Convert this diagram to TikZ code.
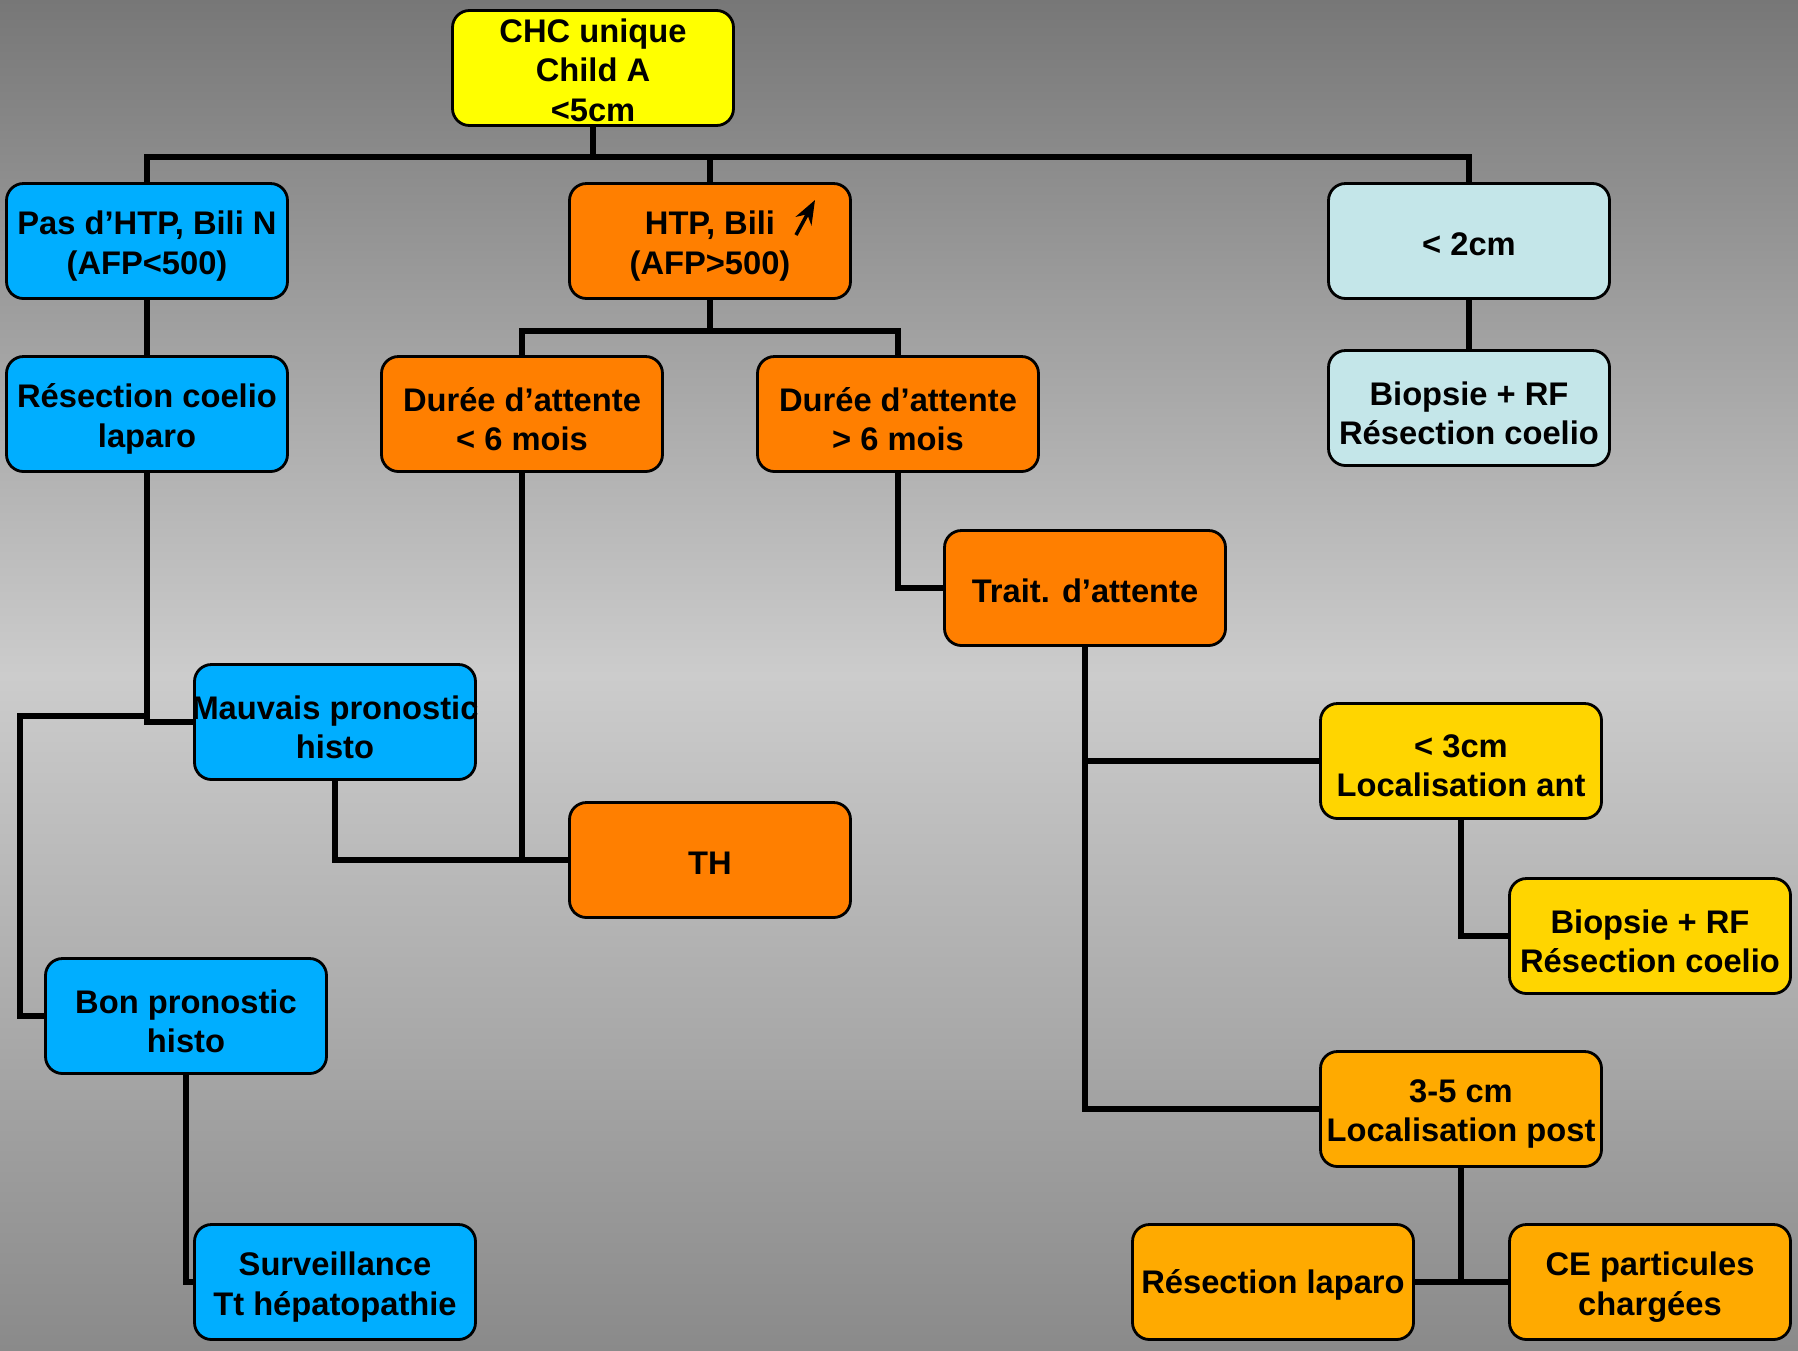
\documentclass[tikz,border=0pt]{standalone}
\usepackage{fontspec}
\setmainfont{Liberation Sans}
\usetikzlibrary{arrows.meta}
\definecolor{cyel}{HTML}{FFFF00}
\definecolor{cblue}{HTML}{00AEFF}
\definecolor{corange}{HTML}{FF7F00}
\definecolor{clight}{HTML}{C4E6E9}
\definecolor{cgold}{HTML}{FFD500}
\definecolor{camber}{HTML}{FFAA00}
\definecolor{bgtop}{HTML}{777777}
\definecolor{bgmid}{HTML}{CCCCCC}
\definecolor{bgbot}{HTML}{8A8A8A}
\begin{document}
\begin{tikzpicture}[
  box/.style={draw=black, line width=0.8pt, rounded corners=0.17cm,
    minimum width=2.81cm, minimum height=1.15cm, inner sep=0pt},
  txt/.style={inner sep=0pt, align=center,
    font=\bfseries\fontsize{9.3}{11.2}\selectfont},
  link/.style={line width=1.5pt, black}
]
\shade[top color=bgtop, bottom color=bgbot, middle color=bgmid] (0,0) rectangle (17.98,-13.5);
\useasboundingbox (0,0) rectangle (17.98,-13.5);

\coordinate (bus) at (0,-1.57);
\coordinate (bus2) at (0,-3.31);
\coordinate (bk) at (0.20,-7.16);

\node[box, fill=cyel] (chc) at (5.93,-0.68) {};
\node[box, fill=cblue] (pas) at (1.47,-2.41) {};
\node[box, fill=corange] (htp) at (7.10,-2.41) {};
\node[box, fill=clight] (lt2) at (14.69,-2.41) {};
\node[box, fill=cblue] (resc) at (1.47,-4.14) {};
\node[box, fill=corange] (d1) at (5.22,-4.14) {};
\node[box, fill=corange] (d2) at (8.98,-4.14) {};
\node[box, fill=clight] (bio1) at (14.69,-4.08) {};
\node[box, fill=corange] (trait) at (10.85,-5.88) {};
\node[box, fill=cblue] (mauv) at (3.35,-7.22) {};
\node[box, fill=cgold] (lt3) at (14.61,-7.61) {};
\node[box, fill=corange] (th) at (7.10,-8.60) {};
\node[box, fill=cgold] (bio2) at (16.50,-9.36) {};
\node[box, fill=cblue] (bon) at (1.86,-10.16) {};
\node[box, fill=camber] (c35) at (14.61,-11.09) {};
\node[box, fill=cblue] (surv) at (3.35,-12.82) {};
\node[box, fill=camber] (reslap) at (12.73,-12.82) {};
\node[box, fill=camber] (ce) at (16.50,-12.82) {};

\node[txt] (chc-t) at ([yshift=-0.02cm]chc.center) {CHC unique\\Child A\\<5cm};
\node[txt] (pas-t) at ([yshift=-0.05cm]pas.center) {Pas d’HTP, Bili N\\(AFP<500)};
\node[txt] (htp-t) at ([yshift=-0.05cm]htp.center) {HTP, Bili\\(AFP>500)};
\node[txt] (lt2-t) at ([yshift=-0.03cm]lt2.center) {< 2cm};
\node[txt] (resc-t) at ([yshift=-0.05cm]resc.center) {Résection coelio\\laparo};
\node[txt] (d1-t) at ([yshift=-0.05cm]d1.center) {Durée d’attente\\< 6 mois};
\node[txt] (d2-t) at ([yshift=-0.05cm]d2.center) {Durée d’attente\\> 6 mois};
\node[txt] (bio1-t) at ([yshift=-0.05cm]bio1.center) {Biopsie + RF\\Résection coelio};
\node[txt] (trait-t) at ([yshift=-0.03cm]trait.center) {Trait. d’attente};
\node[txt] (mauv-t) at ([yshift=-0.05cm]mauv.center) {Mauvais pronostic\\histo};
\node[txt] (lt3-t) at ([yshift=-0.05cm]lt3.center) {< 3cm\\Localisation ant};
\node[txt] (th-t) at ([yshift=-0.03cm]th.center) {TH};
\node[txt] (bio2-t) at ([yshift=-0.05cm]bio2.center) {Biopsie + RF\\Résection coelio};
\node[txt] (bon-t) at ([yshift=-0.05cm]bon.center) {Bon pronostic\\histo};
\node[txt] (c35-t) at ([yshift=-0.05cm]c35.center) {3-5 cm\\Localisation post};
\node[txt] (surv-t) at ([yshift=-0.05cm]surv.center) {Surveillance\\Tt hépatopathie};
\node[txt] (reslap-t) at ([yshift=-0.03cm]reslap.center) {Résection laparo};
\node[txt] (ce-t) at ([yshift=-0.05cm]ce.center) {CE particules\\chargées};

\draw[link] (chc.south) -- (chc.south |- bus);
\draw[link] (pas.north) |- (lt2.north |- bus) -- (lt2.north);
\draw[link] (htp.north) -- (htp.north |- bus);
\draw[link] (pas.south) -- (resc.north);
\draw[link] (htp.south) -- (htp.south |- bus2);
\draw[link] (d1.north) |- (d2.north |- bus2) -- (d2.north);
\draw[link] (d2.south) |- (trait.west);
\draw[link] (lt2.south) -- (bio1.north);
\draw[link] (resc.south) |- (mauv.west);
\draw[link] (bon.west) -| (bk) -- (bk -| resc.south);
\draw[link] (mauv.south) |- (th.west);
\draw[link] (d1.south) -- (d1.south |- th.west);
\draw[link] (trait.south) |- (lt3.west);
\draw[link] (trait.south) |- (c35.west);
\draw[link] (lt3.south) |- (bio2.west);
\draw[link] (c35.south) |- (reslap.east);
\draw[link] (c35.south) |- (ce.west);
\draw[link] (bon.south) |- (surv.west);

% small rising arrow next to "Bili"
\draw[line width=1pt, -{Stealth[length=2.4mm,width=1.8mm]}] (7.96,-2.35) -- (8.15,-2.00);
\end{tikzpicture}
\end{document}
